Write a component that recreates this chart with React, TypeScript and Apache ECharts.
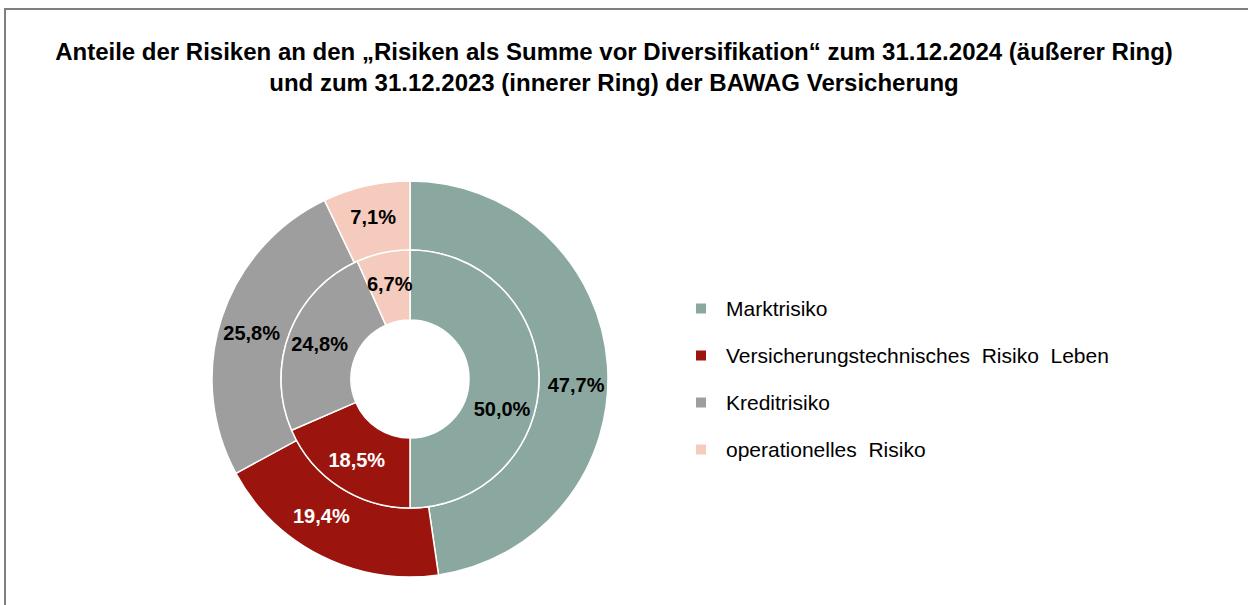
import React, { useEffect, useRef } from "react";
import * as echarts from "echarts";

const categories = [
  "Marktrisiko",
  "Versicherungstechnisches  Risiko  Leben",
  "Kreditrisiko",
  "operationelles  Risiko",
];
const outer2024 = [47.7, 19.4, 25.8, 7.1];
const inner2023 = [50.0, 18.5, 24.8, 6.7];
const colors = ["#8AA89F", "#9B140E", "#9E9E9E", "#F5CBBD"];
const labelColors = ["#000000", "#ffffff", "#000000", "#000000"];
const outerLabelShift = [[0, 18], [-14, -12], [0, 5], [0, 0]];
const innerLabelShift = [[-5, 30], [0, 0], [0, 0], [0, 0]];
const titleLines = [
  "Anteile der Risiken an den „Risiken als Summe vor Diversifikation“ zum 31.12.2024 (äußerer Ring)",
  "und zum 31.12.2023 (innerer Ring) der BAWAG Versicherung",
];

const fmt = (v: number) => v.toFixed(1).replace(".", ",") + "%";

export default function App() {
  const ref = useRef<HTMLDivElement>(null);
  useEffect(() => {
    if (!ref.current) return;
    const chart = echarts.init(ref.current, null, { renderer: "svg" });
    const mkData = (vals: number[], shifts: number[][]) =>
      vals.map((v, i) => ({
        value: v,
        name: categories[i],
        itemStyle: { color: colors[i] },
        label: { color: labelColors[i], offset: shifts[i] },
      }));
    const labelBase = {
      show: true,
      position: "inside" as const,
      fontFamily: "Liberation Sans, Arial, sans-serif",
      fontWeight: "bold" as const,
      fontSize: 20,
      formatter: (p: any) => fmt(p.value),
    };
    chart.setOption({
      animation: false,
      backgroundColor: "#ffffff",
      title: {
        text: titleLines.join("\n"),
        left: 609,
        top: 31,
        textAlign: "center",
        textStyle: {
          fontFamily: "Liberation Sans, Arial, sans-serif",
          fontWeight: "bold",
          fontSize: 24,
          lineHeight: 31,
          color: "#000000",
          align: "center",
        },
      },
      legend: {
        orient: "vertical",
        left: 689,
        top: 293,
        icon: "rect",
        itemWidth: 12,
        itemHeight: 12,
        itemGap: 26,
        data: categories,
        textStyle: {
          fontFamily: "Liberation Sans, Arial, sans-serif",
          fontSize: 21,
          lineHeight: 21,
          color: "#000000",
          padding: [0, 0, 0, 14],
        },
      },
      graphic: [
        {
          type: "rect",
          shape: { x: 5, y: 9, width: 1300, height: 700 },
          style: { fill: "none", stroke: "#7f7f7f", lineWidth: 2 },
          silent: true,
        },
      ],
      series: [
        {
          type: "pie",
          name: "2024",
          center: [410, 379],
          radius: [129, 198],
          startAngle: 90,
          clockwise: true,
          avoidLabelOverlap: false,
          itemStyle: { borderColor: "#ffffff", borderWidth: 1.5 },
          label: labelBase,
          labelLine: { show: false },
          data: mkData(outer2024, outerLabelShift),
        },
        {
          type: "pie",
          name: "2023",
          center: [410, 379],
          radius: [59, 129],
          startAngle: 90,
          clockwise: true,
          avoidLabelOverlap: false,
          itemStyle: { borderColor: "#ffffff", borderWidth: 1.5 },
          label: labelBase,
          labelLine: { show: false },
          data: mkData(inner2023, innerLabelShift),
        },
      ],
    });
    return () => chart.dispose();
  }, []);
  return (
    <div
      ref={ref}
      style={{ position: "fixed", left: 0, top: 0, width: 1248, height: 605 }}
    />
  );
}
